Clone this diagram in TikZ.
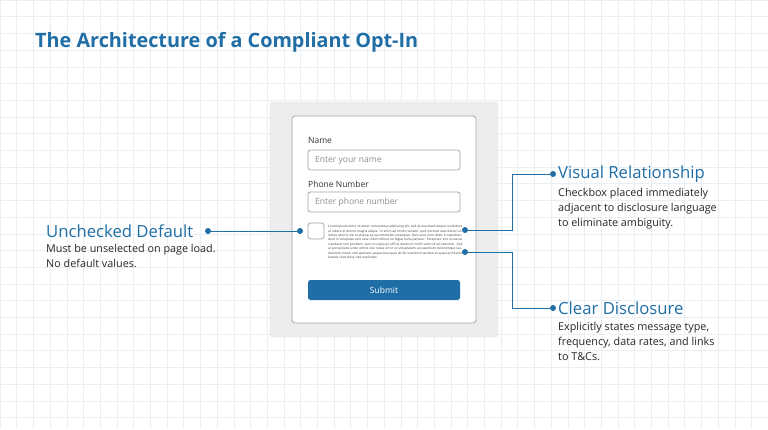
\documentclass[tikz,border=0pt]{standalone}
\usepackage{fontspec}
\setmainfont{Open Sans}
\begin{document}
\begin{tikzpicture}[x=1pt,y=-1pt,
  lbl/.style={anchor=west,inner sep=0,font=\fontsize{8.5}{9}\selectfont,text=black!80},
  field/.style={draw=black!35,line width=0.8pt,rounded corners=2.5pt,fill=white},
  ph/.style={anchor=west,inner sep=0,font=\fontsize{8.5}{9}\selectfont,text=black!45},
  dot/.style={circle,fill=accent,inner sep=0,minimum size=6pt},
  conn/.style={draw=accent,line width=1pt},
  head/.style={anchor=west,inner sep=0,font=\fontsize{16.7}{19}\selectfont,text=accent},
  desc/.style={anchor=north west,inner sep=0,align=left,font=\fontsize{10.8}{15}\selectfont,text=black!85}]
\definecolor{accent}{HTML}{1F6EA6}
\definecolor{gridc}{HTML}{E9EFF3}
\fill[white] (0,0) rectangle (768,429);
\useasboundingbox (0,0) rectangle (768,429);
\foreach \i in {0,...,46} \draw[gridc,line width=0.6pt] (\i*16.7,0) -- (\i*16.7,429);
\foreach \j in {0,...,26} \draw[gridc,line width=0.6pt] (0,\j*16.7) -- (768,\j*16.7);
\node[anchor=base west,inner sep=0,font=\fontsize{19.8}{22}\selectfont\bfseries,text=accent] (title) at (35,47) {The Architecture of a Compliant Opt-In};
% panel
\node[draw=black!12,fill=black!7,rounded corners=3pt,minimum width=228pt,minimum height=235pt,inner sep=0] (panel) at (384,219.5) {};
\node[draw=black!35,line width=0.8pt,fill=white,rounded corners=3pt,minimum width=184pt,minimum height=207pt,inner sep=0] (card) at (384,219.5) {};
\node[lbl] (nl) at (308,141) {Name};
\node[field,minimum width=152pt,minimum height=20pt,inner sep=0] (in1) at (384,160) {};
\node[ph] (p1) at (315,160) {Enter your name};
\node[lbl] (pl) at (308,184) {Phone Number};
\node[field,minimum width=152pt,minimum height=20pt,inner sep=0] (in2) at (384,202) {};
\node[ph] (p2) at (315,202) {Enter phone number};
\node[field,minimum width=16pt,minimum height=16pt,inner sep=0] (cb) at (316,231) {};
\node[anchor=north west,inner sep=0,text width=134pt,align=justify,font=\fontsize{3.2}{4.4}\selectfont,text=black!75] (dis) at (328,225) {Lorem ipsum dolor sit amet, consectetur adipiscing elit, sed do eiusmod tempor incididunt ut labore et dolore magna aliqua. Ut enim ad minim veniam, quis nostrud exercitation ullamco laboris nisi ut aliquip ex ea commodo consequat. Duis aute irure dolor in reprehenderit in voluptate velit esse cillum dolore eu fugiat nulla pariatur. Excepteur sint occaecat cupidatat non proident, sunt in culpa qui officia deserunt mollit anim id est laborum. Sed ut perspiciatis unde omnis iste natus error sit voluptatem accusantium doloremque laudantium, totam rem aperiam, eaque ipsa quae ab illo inventore veritatis et quasi architecto beatae vitae dicta sunt explicabo.};
\node[fill=accent,rounded corners=2.5pt,minimum width=152pt,minimum height=20pt,inner sep=0,text=white,font=\fontsize{8.5}{9}\selectfont] (sub) at (384,290) {Submit};
% dots
\node[dot] (dl1) at (300,231) {};
\node[dot] (dl2) at (208,231) {};
\node[dot] (dr1) at (465,230) {};
\node[dot] (dr2) at (465,252) {};
\node[dot] (dv) at (553,174) {};
\node[dot] (dc) at (553,308) {};
\coordinate (k1) at (512,230);
\coordinate (k2) at (512,252);
\draw[conn] (dl2) -- (dl1);
\draw[conn] (dr1) -- (k1) |- (dv);
\draw[conn] (dr2) -- (k2) |- (dc);
% labels
\node[head] (hu) at (46,231) {Unchecked Default};
\node[desc] (du) at (46,244) {Must be unselected on page load.\\No default values.};
\node[head] (hv) at (558,174) {Visual Relationship};
\node[desc] (dvv) at (558,188) {Checkbox placed immediately\\adjacent to disclosure language\\to eliminate ambiguity.};
\node[head] (hc) at (558,308) {Clear Disclosure};
\node[desc] (dcc) at (558,322) {Explicitly states message type,\\frequency, data rates, and links\\to T\&Cs.};
\end{tikzpicture}
\end{document}
